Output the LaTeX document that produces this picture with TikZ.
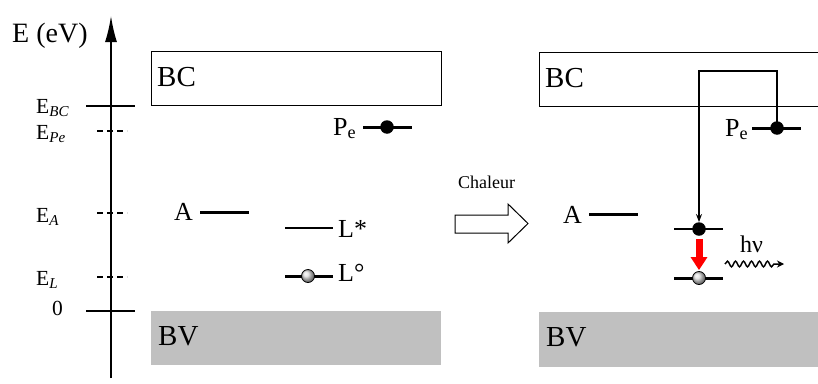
\documentclass[tikz,border=0pt]{standalone}
\usepackage{fontspec}
\setmainfont{Liberation Serif}
\usetikzlibrary{arrows.meta,decorations.pathmorphing,calc}
\definecolor{bandgray}{RGB}{192,192,192}
\tikzset{
  lbl/.style={inner sep=0pt, anchor=base west},
  big/.style={font=\fontsize{29}{30}\selectfont},
  mid/.style={font=\fontsize{26}{27}\selectfont},
  small/.style={font=\fontsize{21.5}{22}\selectfont},
  thicklev/.style={line width=3pt},
  thinlev/.style={line width=1.3pt},
  tickline/.style={line width=1.6pt},
  dashtick/.style={line width=1.5pt, dash pattern=on 6pt off 4pt},
  edot/.style={circle, fill=black, inner sep=0pt, minimum size=13.5pt},
  hole/.style={circle, draw=black, line width=0.8pt, shading=ball, ball color=white!75!gray, inner sep=0pt, minimum size=13pt},
}
\begin{document}
\begin{tikzpicture}[x=1pt,y=-1pt]
\useasboundingbox (0,0) rectangle (818,383);
% bands
\fill[bandgray] (151,311) rectangle (441,365);
\draw[line width=1pt] (151,51) rectangle (441,105);
\fill[bandgray] (539,312) rectangle (822,367);
\draw[line width=1pt] (539,52) rectangle (822,106);
\node[lbl,big] (bc1) at (157,86) {BC};
\node[lbl,big] (bv1) at (158,345) {BV};
\node[lbl,big] (bc2) at (545,87) {BC};
\node[lbl,big] (bv2) at (546,346) {BV};
% axis
\coordinate (axb) at (111,378);
\coordinate (axt) at (111,16);
\draw[line width=1.6pt, -{Latex[length=26pt,width=12pt]}] (axb) -- (axt);
\node[lbl,font=\fontsize{28}{29}\selectfont] (eev) at (12,42) {E (eV)};
% ticks
\draw[tickline] (86,106) -- (135,106);
\draw[dashtick] (97,131) -- (127,131);
\draw[dashtick] (97,213) -- (127,213);
\draw[dashtick] (97,277) -- (127,277);
\draw[tickline] (86,311) -- (135,311);
\node[lbl,small] (ebc) at (36,113) {E\textsubscript{\textit{BC}}};
\node[lbl,small] (epe) at (36,139) {E\textsubscript{\textit{Pe}}};
\node[lbl,small] (ea) at (36,222) {E\textsubscript{\textit{A}}};
\node[lbl,small] (el) at (36,285) {E\textsubscript{\textit{L}}};
\node[lbl,small] (zero) at (52,315) {0};
% left levels
\node[lbl,mid] (a1) at (174,220) {A};
\draw[thicklev] (200,212) -- (249,212);
\node[lbl,mid] (pe1) at (333,135) {P\textsubscript{e}};
\draw[thicklev] (363,127) -- (412,127);
\node[edot] (pedot1) at (387,127) {};
\draw[thinlev] (285,228) -- (333,228);
\node[lbl,mid] (ls) at (338,237) {L*};
\draw[thicklev] (285,276) -- (333,276);
\node[hole] (lo1) at (308,276) {};
\node[lbl,mid] (ld) at (338,281) {L°};
% Chaleur arrow
\node[lbl,font=\fontsize{18}{19}\selectfont] (chal) at (458,188) {Chaleur};
\draw[line width=1pt] (455,215) -- (508,215) -- (508,204) -- (528,223.5) -- (508,243) -- (508,233) -- (455,233) -- cycle;
% right levels
\node[lbl,mid] (a2) at (563,223) {A};
\draw[thicklev] (589,214) -- (638,214);
\node[lbl,mid] (pe2) at (725,136) {P\textsubscript{e}};
\draw[thicklev] (752,128) -- (801,128);
\node[edot] (pedot2) at (777,128) {};
\draw[thinlev] (674,229) -- (723,229);
\node[edot] (edot2) at (699,229) {};
\draw[thicklev] (674,278) -- (723,278);
\node[hole] (lo2) at (699,278) {};
% transfer path
\draw[line width=1.3pt, -{Stealth[length=8pt,width=6pt]}] (pedot2.center) -- (777,71) -| (edot2.north);
% red arrow
\draw[red, line width=7pt, -{Triangle[length=13pt,width=16pt]}] ($(edot2.south)+(0,3)$) -- ($(lo2.north)+(0,-1)$);
% photon
\node[lbl,font=\fontsize{24}{25}\selectfont] (hnu) at (740,252) {hν};
\coordinate (ph1) at (725,264);
\coordinate (ph2) at (784,264);
\draw[line width=1.5pt, decorate, decoration={snake, amplitude=2.8pt, segment length=8pt, post length=7pt}, -{Stealth[length=7pt,width=7pt]}] (ph1) -- (ph2);
\end{tikzpicture}
\end{document}
